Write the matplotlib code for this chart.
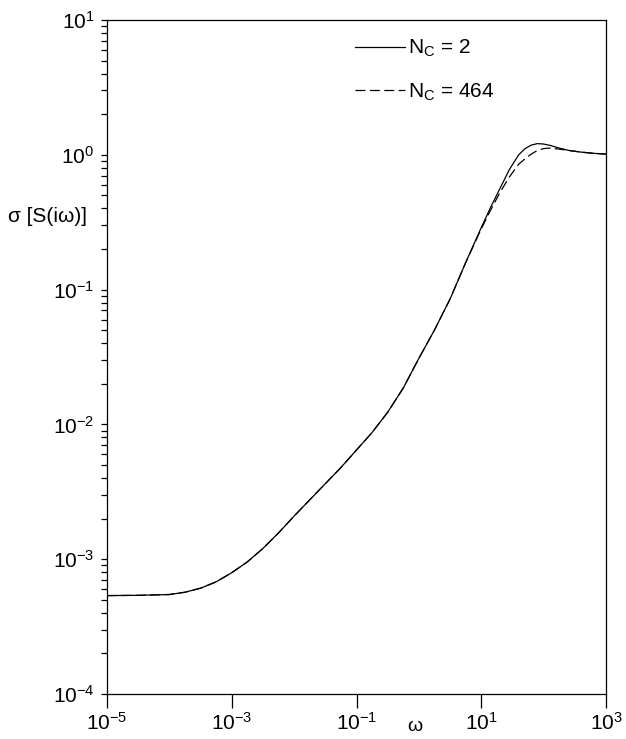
import numpy as np
import matplotlib
matplotlib.use('Agg')
import matplotlib.pyplot as plt
from matplotlib.ticker import LogLocator, NullLocator, FixedLocator, FixedFormatter

plt.rcParams['font.family'] = ['Liberation Sans', 'DejaVu Sans']
plt.rcParams['mathtext.fontset'] = 'custom'
plt.rcParams['mathtext.rm'] = 'Liberation Sans'
plt.rcParams['mathtext.it'] = 'Liberation Sans:italic'
plt.rcParams['axes.unicode_minus'] = False

# values (log10 scale)
log_w = [-5.0, -4.5, -4.25, -4.0, -3.75, -3.5, -3.25, -3.0, -2.75, -2.5, -2.25, -2.0, -1.75,
         -1.5, -1.25, -1.0, -0.75, -0.5, -0.25, 0.0, 0.25, 0.5, 0.75, 1.0, 1.15,
         1.3, 1.45, 1.6, 1.7, 1.8, 1.9, 2.0, 2.1, 2.25, 2.4, 2.6, 2.8, 3.0]
log_s_nc2 = [-3.27, -3.268, -3.265, -3.262, -3.245, -3.215, -3.168, -3.10, -3.02, -2.92, -2.805,
             -2.68, -2.56, -2.44, -2.32, -2.19, -2.06, -1.91, -1.73, -1.51, -1.30, -1.07, -0.80,
             -0.54, -0.39, -0.25, -0.11, 0.0, 0.045, 0.072, 0.083, 0.08, 0.07, 0.05, 0.033,
             0.02, 0.011, 0.005]
log_s_nc464 = [-3.27, -3.268, -3.265, -3.262, -3.245, -3.215, -3.168, -3.10, -3.02, -2.92, -2.805,
               -2.68, -2.56, -2.44, -2.32, -2.19, -2.06, -1.91, -1.73, -1.51, -1.30, -1.07, -0.80,
               -0.55, -0.41, -0.28, -0.165, -0.07, -0.03, 0.005, 0.032, 0.046, 0.05, 0.042,
               0.032, 0.02, 0.011, 0.005]

x_ticks = [1e-5, 1e-3, 1e-1, 1e1, 1e3]
x_tick_labels = ['10$^{-5}$', '10$^{-3}$', '10$^{-1}$', '10$^{1}$', '10$^{3}$']
y_ticks = [1e-4, 1e-3, 1e-2, 1e-1, 1e0, 1e1]
y_tick_labels = ['10$^{-4}$', '10$^{-3}$', '10$^{-2}$', '10$^{-1}$', '10$^{0}$', '10$^{1}$']

fig = plt.figure(figsize=(6.26, 7.39), dpi=100)
ax = fig.add_axes([107/626, 45/739, 499/626, 674/739])

w = 10**np.array(log_w)
ax.plot(w, 10**np.array(log_s_nc2), color='black', lw=0.9,
        label='N$_\\mathregular{C}$ = 2')
ax.plot(w, 10**np.array(log_s_nc464), color='black', lw=0.9,
        dashes=(8, 3.5), label='N$_\\mathregular{C}$ = 464')

ax.set_xscale('log')
ax.set_yscale('log')
ax.set_xlim(1e-5, 1e3)
ax.set_ylim(1e-4, 1e1)

ax.xaxis.set_major_locator(FixedLocator(x_ticks))
ax.xaxis.set_major_formatter(FixedFormatter(x_tick_labels))
ax.xaxis.set_minor_locator(NullLocator())
ax.yaxis.set_major_locator(FixedLocator(y_ticks))
ax.yaxis.set_major_formatter(FixedFormatter(y_tick_labels))
ax.yaxis.set_minor_locator(LogLocator(base=10, subs=np.arange(2, 10), numticks=20))

ax.tick_params(axis='x', which='major', direction='out', length=10, width=0.9,
               labelsize=15, pad=3, top=False)
ax.tick_params(axis='y', which='both', direction='out', length=4, width=0.9,
               labelsize=15, pad=5, right=False)
for s in ax.spines.values():
    s.set_linewidth(0.9)

ax.set_xlabel('ω', fontsize=14)
ax.xaxis.set_label_coords(0.617, -0.036)
ax.text(-0.12, 0.708, 'σ [S(iω)]', transform=ax.transAxes, ha='center', va='center',
        fontsize=15)

ax.legend(loc='upper left', bbox_to_anchor=(0.497, 0.973), frameon=False, fontsize=15,
          handlelength=2.4, handletextpad=0.15, labelspacing=1.05, borderpad=0,
          borderaxespad=0)

fig.savefig('out.png', dpi=100)
